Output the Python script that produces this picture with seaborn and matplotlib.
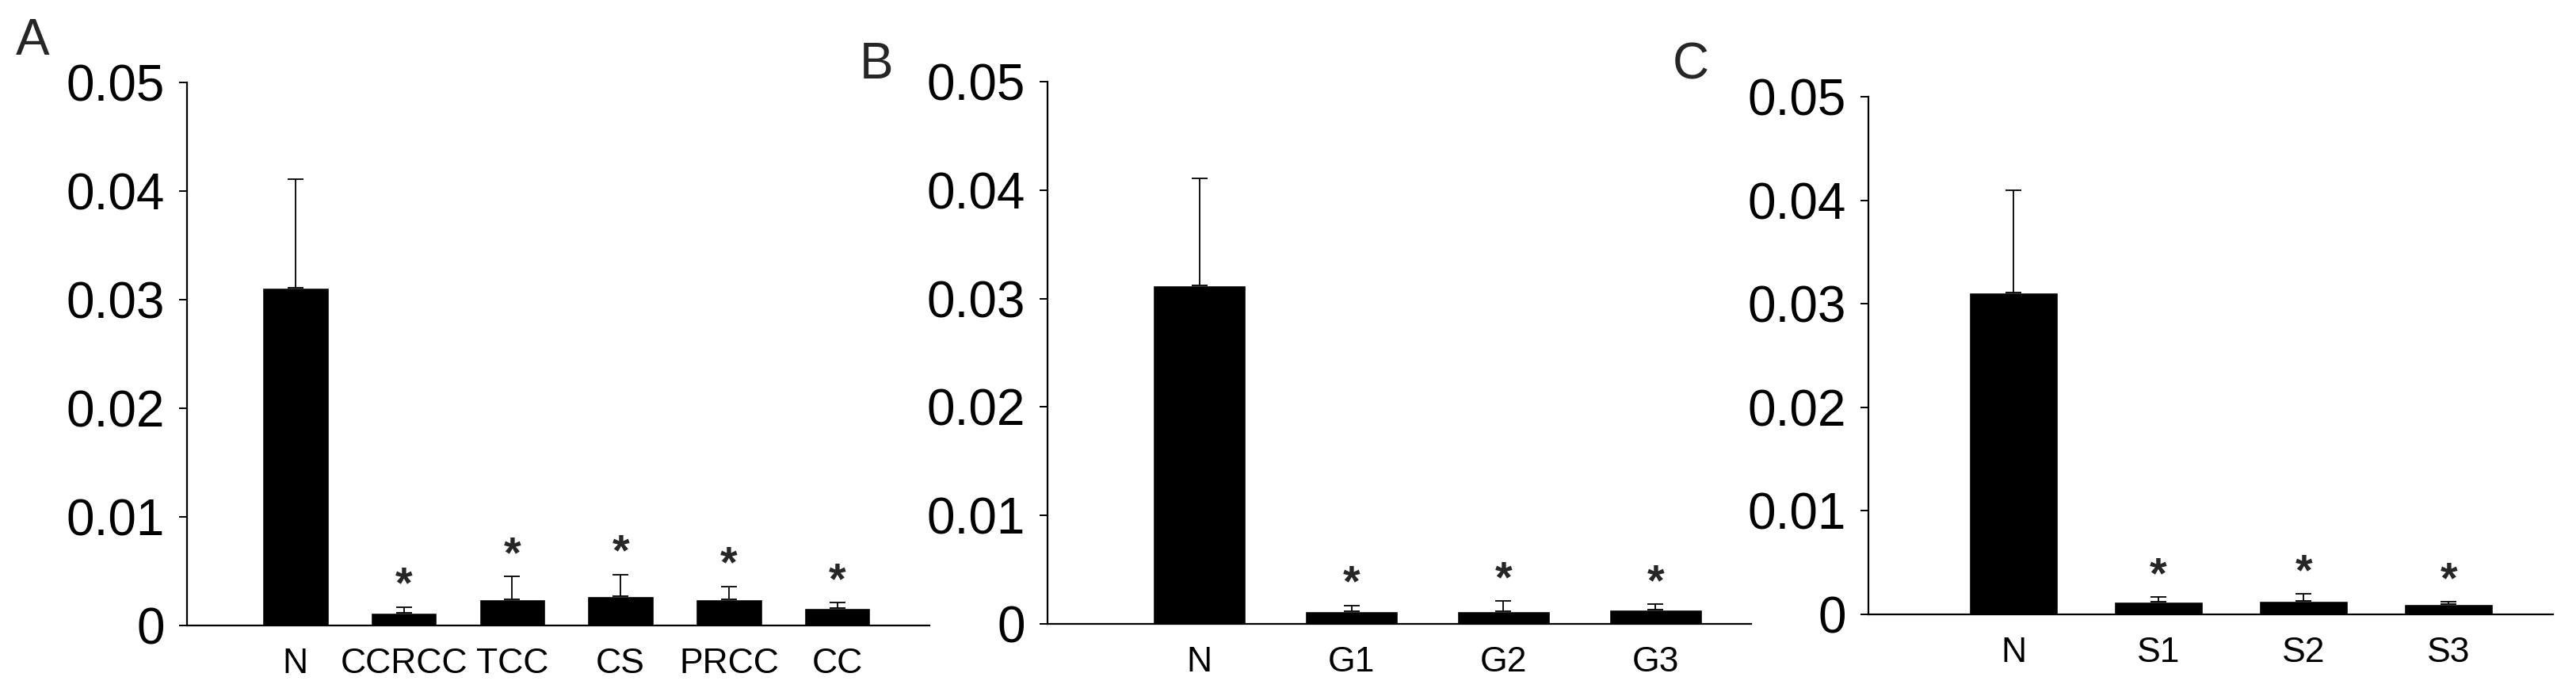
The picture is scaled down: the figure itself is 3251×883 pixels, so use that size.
import numpy as np
import pandas as pd
import matplotlib
matplotlib.use("Agg")
import matplotlib.pyplot as plt
import seaborn as sns

# panel A - histological type
cats_a = ["N", "CCRCC", "TCC", "CS", "PRCC", "CC"]
vals_a = [0.0311, 0.0012, 0.0024, 0.0027, 0.0024, 0.0016]
errs_a = [0.0100, 0.0005, 0.0021, 0.0020, 0.0012, 0.0005]

# panel B - grade
cats_b = ["N", "G1", "G2", "G3"]
vals_b = [0.0312, 0.0012, 0.0012, 0.0013]
errs_b = [0.0099, 0.0005, 0.0009, 0.0005]

# panel C - stage
cats_c = ["N", "S1", "S2", "S3"]
vals_c = [0.0311, 0.0012, 0.0013, 0.0010]
errs_c = [0.0099, 0.0005, 0.0007, 0.0002]

yticks = [0, 0.01, 0.02, 0.03, 0.04, 0.05]
ytick_labels = ["0", "0.01", "0.02", "0.03", "0.04", "0.05"]
panel_letters = ["A", "B", "C"]

sns.set_theme(style="white")
plt.rcParams["font.family"] = ["Liberation Sans", "DejaVu Sans"]

W, H = 3251, 883
fig = plt.figure(figsize=(W / 100, H / 100), dpi=100)


def px_axes(left, right, top, bottom):
    return fig.add_axes([left / W, 1 - bottom / H, (right - left) / W, (bottom - top) / H])


panels = [
    (cats_a, vals_a, errs_a, px_axes(236, 1173, 104, 789), 5.85, (20, 22)),
    (cats_b, vals_b, errs_b, px_axes(1322, 2210, 103, 787), 3.63, (1085, 52)),
    (cats_c, vals_c, errs_c, px_axes(2358, 3222, 122, 775), 3.72, (2111, 52)),
]

for (cats, vals, errs, ax, xmax, lab_pos), letter in zip(panels, panel_letters):
    df = pd.DataFrame({"group": cats, "value": vals})
    sns.barplot(data=df, x="group", y="value", color="black", width=0.61,
                saturation=1, ax=ax, errorbar=None)
    x = np.arange(len(cats))
    ax.errorbar(x, vals, yerr=[np.zeros(len(errs)), errs], fmt="none",
                ecolor="black", elinewidth=1.3, capsize=7, capthick=1.3)
    # significance stars above the error bars
    for xi, v, e in zip(x[1:], vals[1:], errs[1:]):
        ax.annotate("*", (xi, v + e), xytext=(0, 0), textcoords="offset points",
                    ha="center", va="bottom", fontsize=40, fontweight="bold")
    ax.set_xlim(-1, xmax)
    ax.set_ylim(0, 0.05)
    ax.set_yticks(yticks)
    ax.set_yticklabels(ytick_labels)
    ax.set_xlabel("")
    ax.set_ylabel("")
    sns.despine(ax=ax)
    for s in ["left", "bottom"]:
        ax.spines[s].set_linewidth(1.6)
        ax.spines[s].set_color("black")
    ax.tick_params(axis="y", direction="out", length=7, width=1.4, pad=13,
                   labelsize=46, left=True, colors="black")
    ax.tick_params(axis="x", length=0, pad=20, labelsize=32, colors="black")
    fig.text(lab_pos[0] / W, 1 - lab_pos[1] / H, letter, fontsize=46,
             ha="left", va="top")

fig.savefig("out.png", dpi=100, facecolor="white")
